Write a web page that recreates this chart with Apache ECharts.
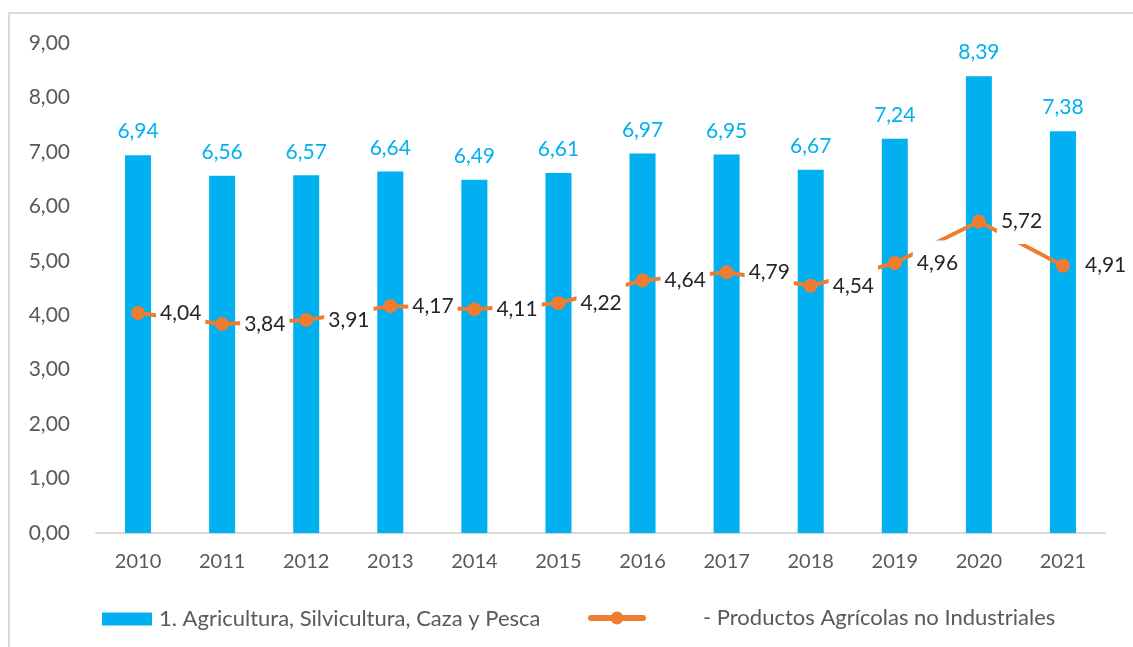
<!DOCTYPE html>
<html>
<head>
<meta charset="utf-8">
<script src="https://cdn.jsdelivr.net/npm/echarts@6/dist/echarts.min.js"></script>
<style>
  html, body { margin: 0; padding: 0; background: #fff; }
  #chart { width: 1133px; height: 647px; }
</style>
</head>
<body>
<div id="chart"></div>
<script>
// datos
const years = ['2010', '2011', '2012', '2013', '2014', '2015', '2016', '2017', '2018', '2019', '2020', '2021']
const agricultura = [6.94, 6.56, 6.57, 6.64, 6.49, 6.61, 6.97, 6.95, 6.67, 7.24, 8.39, 7.38]
const productos = [4.04, 3.84, 3.91, 4.17, 4.11, 4.22, 4.64, 4.79, 4.54, 4.96, 5.72, 4.91]
const barName = '1. Agricultura, Silvicultura, Caza y Pesca'
const lineName = '- Productos Agrícolas no Industriales'

const FONT = 'Lato, "Open Sans", sans-serif'
const fmt = v => Number(v).toFixed(2).replace('.', ',')

const chart = echarts.init(document.getElementById('chart'), null, { renderer: 'canvas' })

chart.setOption({
  backgroundColor: '#ffffff',
  animation: false,
  textStyle: { fontFamily: FONT },
  graphic: [{
    type: 'rect',
    shape: { x: 9, y: 13, width: 1200, height: 700 },
    style: { fill: 'none', stroke: '#d9d9d9', lineWidth: 2 },
    silent: true
  }],
  grid: { left: 96, right: 28, top: 43, bottom: 114 },
  legend: [{
    data: [{ name: barName, icon: 'rect' }],
    left: 97,
    top: 603,
    itemWidth: 50,
    itemHeight: 13,
    itemGap: 10,
    textStyle: { color: '#595959', fontSize: 22, fontFamily: FONT, padding: [0, 0, 0, 2] }
  }, {
    data: [lineName],
    left: 583,
    top: 602,
    itemWidth: 52,
    itemHeight: 16,
    lineStyle: { width: 6, cap: 'round' },
    textStyle: { color: '#595959', fontSize: 22, fontFamily: FONT, padding: [0, 0, 0, 55] }
  }],
  xAxis: {
    type: 'category',
    data: years,
    axisLine: { lineStyle: { color: '#d9d9d9', width: 2 } },
    axisTick: { show: false },
    axisLabel: { color: '#595959', fontSize: 20, margin: 19, fontFamily: FONT }
  },
  yAxis: {
    type: 'value',
    min: 0,
    max: 9,
    interval: 1,
    axisLine: { show: false },
    axisTick: { show: false },
    splitLine: { show: false },
    axisLabel: { color: '#595959', fontSize: 21, margin: 26, formatter: fmt, fontFamily: FONT }
  },
  series: [{
    name: barName,
    type: 'bar',
    data: agricultura,
    barWidth: 26,
    itemStyle: { color: '#00B0F0' },
    label: {
      show: true,
      position: 'top',
      distance: 13,
      color: '#00B0F0',
      fontSize: 21,
      fontFamily: FONT,
      formatter: p => fmt(p.value)
    }
  }, {
    name: lineName,
    type: 'line',
    data: productos,
    symbol: 'circle',
    symbolSize: 14,
    lineStyle: { color: '#ED7D31', width: 4 },
    itemStyle: { color: '#ED7D31' },
    label: {
      show: true,
      position: 'right',
      distance: 11,
      color: '#262626',
      fontSize: 21,
      fontFamily: FONT,
      backgroundColor: '#ffffff',
      padding: [12, 4, 12, 4],
      formatter: p => fmt(p.value)
    },
    z: 3
  }]
})
</script>
</body>
</html>
